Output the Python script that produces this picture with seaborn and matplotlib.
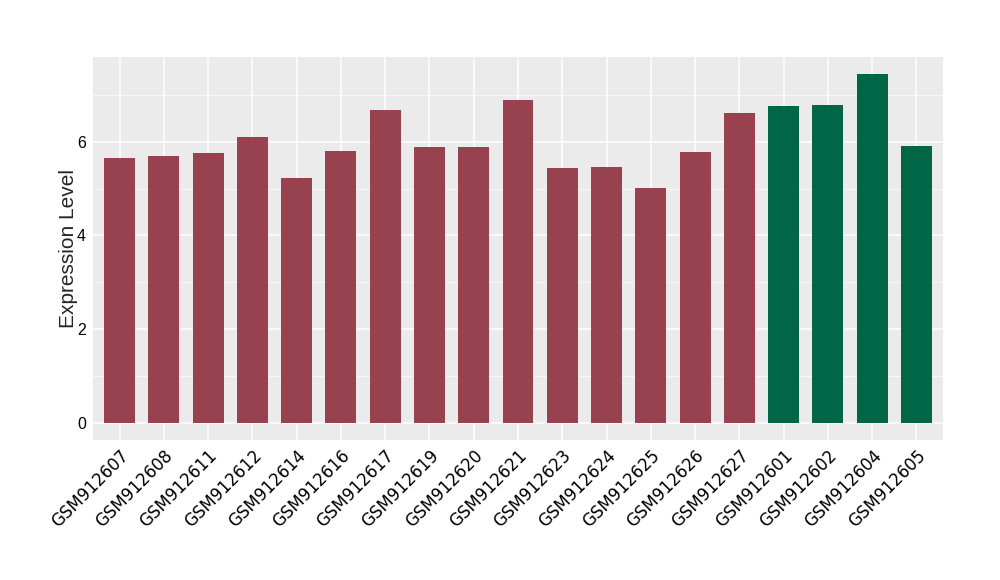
import pandas as pd
import matplotlib
matplotlib.use('Agg')
import matplotlib.pyplot as plt
from matplotlib.ticker import MultipleLocator
import seaborn as sns

muestras = ['GSM912607', 'GSM912608', 'GSM912611', 'GSM912612', 'GSM912614',
            'GSM912616', 'GSM912617', 'GSM912619', 'GSM912620', 'GSM912621',
            'GSM912623', 'GSM912624', 'GSM912625', 'GSM912626', 'GSM912627',
            'GSM912601', 'GSM912602', 'GSM912604', 'GSM912605']
expresion = [5.65, 5.69, 5.76, 6.10, 5.22, 5.80, 6.69, 5.88, 5.88, 6.89,
             5.44, 5.46, 5.01, 5.78, 6.61, 6.76, 6.78, 7.44, 5.91]
grupos = ['A'] * 15 + ['B'] * 4
colores = {'A': '#99424F', 'B': '#006646'}

df = pd.DataFrame({'muestra': muestras, 'expresion': expresion, 'grupo': grupos})

sns.set_theme(style='darkgrid', rc={
    'axes.facecolor': '#EBEBEB',
    'grid.color': 'white',
    'axes.edgecolor': '#EBEBEB',
})
plt.rcParams['font.family'] = ['Liberation Sans', 'DejaVu Sans']

fig = plt.figure(figsize=(10, 5.8), dpi=100)
ax = fig.add_axes([0.093, 0.2414, 0.85, 0.6603])

sns.barplot(data=df, x='muestra', y='expresion', hue='grupo', palette=colores,
            width=0.7, dodge=False, legend=False, saturation=1, linewidth=0,
            ax=ax)

ymax = max(expresion)
ax.set_ylim(-0.05 * ymax, 1.05 * ymax)
ax.set_xlim(-0.6, len(muestras) - 0.4)
ax.yaxis.set_major_locator(MultipleLocator(2))
ax.yaxis.set_minor_locator(MultipleLocator(1))
ax.grid(which='major', color='white', linewidth=1.1)
ax.grid(which='minor', axis='y', color='white', linewidth=0.5)
ax.set_axisbelow(True)
for s in ax.spines.values():
    s.set_visible(False)

ax.tick_params(axis='both', which='major', length=3, width=0.8, color='#333333',
               labelcolor='black', pad=2)
ax.tick_params(axis='y', which='minor', length=0)
ax.tick_params(axis='y', labelsize=11.5)
ax.set_xticks(range(len(muestras)))
ax.set_xticklabels(muestras, rotation=45, ha='right', rotation_mode='anchor',
                   fontsize=12, family='DejaVu Sans')
ax.set_xlabel('')
ax.set_ylabel('Expression Level', fontsize=15, labelpad=-1)

fig.savefig('out.png', dpi=100)
